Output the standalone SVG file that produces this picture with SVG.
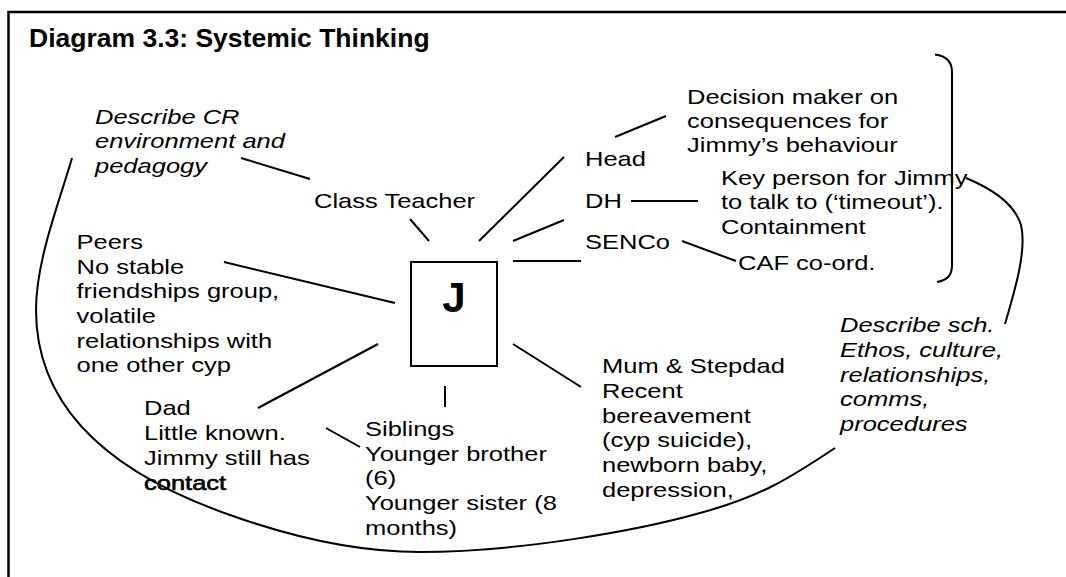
<svg xmlns="http://www.w3.org/2000/svg" width="1066" height="577" viewBox="0 0 1066 577">
  <style>
    .t { font-family: "Liberation Sans", Arial, sans-serif; font-size: 20.5px; fill: #000; }
    .it { font-style: italic; }
    .title { font-family: "Liberation Sans", Arial, sans-serif; font-size: 26.5px; font-weight: bold; fill: #000; }
    .ln { stroke: #000; stroke-width: 2; fill: none; stroke-linecap: butt; }
    .cv { stroke: #000; stroke-width: 2; fill: none; }
  </style>
  <rect width="1066" height="577" fill="#fff"/>

  <!-- frame: top and left edges only -->
  <path d="M8.5,577 V12 H1066" fill="none" stroke="#000" stroke-width="2.5"/>

  <text class="title" x="29" y="47">Diagram 3.3: Systemic Thinking</text>

  <!-- central child -->
  <g id="node-j">
    <rect x="411" y="262" width="86" height="104" fill="#fff" stroke="#000" stroke-width="2"/>
    <text x="454" y="312" text-anchor="middle" font-family="Liberation Sans, Arial, sans-serif" font-size="42" font-weight="bold">J</text>
  </g>

  <g id="node-cr">
    <text class="t it" transform="translate(95,124) scale(1.245,1)">
      <tspan x="0" y="0">Describe CR</tspan>
      <tspan x="0" y="24.5">environment and</tspan>
      <tspan x="0" y="49">pedagogy</tspan>
    </text>
  </g>

  <g id="node-teacher">
    <text class="t" transform="translate(314,208) scale(1.245,1)">Class Teacher</text>
  </g>

  <g id="node-peers">
    <text class="t" transform="translate(76.5,249) scale(1.245,1)">
      <tspan x="0" y="0">Peers</tspan>
      <tspan x="0" y="24.7">No stable</tspan>
      <tspan x="0" y="49.4">friendships group,</tspan>
      <tspan x="0" y="74.1">volatile</tspan>
      <tspan x="0" y="98.8">relationships with</tspan>
      <tspan x="0" y="123.5">one other cyp</tspan>
    </text>
  </g>

  <g id="node-dad">
    <text class="t" transform="translate(144,415) scale(1.245,1)">
      <tspan x="0" y="0">Dad</tspan>
      <tspan x="0" y="25">Little known.</tspan>
      <tspan x="0" y="50">Jimmy still has</tspan>
      <tspan x="0" y="75" stroke="#000" stroke-width="0.6">contact</tspan>
    </text>
  </g>

  <g id="node-siblings">
    <text class="t" transform="translate(365,436) scale(1.245,1)">
      <tspan x="0" y="0">Siblings</tspan>
      <tspan x="0" y="24.7">Younger brother</tspan>
      <tspan x="0" y="49.4">(6)</tspan>
      <tspan x="0" y="74.1">Younger sister (8</tspan>
      <tspan x="0" y="98.8">months)</tspan>
    </text>
  </g>

  <g id="node-mum">
    <text class="t" transform="translate(602,373) scale(1.245,1)">
      <tspan x="0" y="0">Mum &amp; Stepdad</tspan>
      <tspan x="0" y="24.8">Recent</tspan>
      <tspan x="0" y="49.6">bereavement</tspan>
      <tspan x="0" y="74.4">(cyp suicide),</tspan>
      <tspan x="0" y="99.2">newborn baby,</tspan>
      <tspan x="0" y="124">depression,</tspan>
    </text>
  </g>

  <g id="node-school">
    <text class="t it" transform="translate(840,332) scale(1.245,1)">
      <tspan x="0" y="0">Describe sch.</tspan>
      <tspan x="0" y="24.8">Ethos, culture,</tspan>
      <tspan x="0" y="49.6">relationships,</tspan>
      <tspan x="0" y="74.4">comms,</tspan>
      <tspan x="0" y="99.2">procedures</tspan>
    </text>
  </g>

  <g id="node-head">
    <text class="t" transform="translate(585,166) scale(1.245,1)">Head</text>
  </g>
  <g id="node-dh">
    <text class="t" transform="translate(585,208) scale(1.245,1)">DH</text>
  </g>
  <g id="node-senco">
    <text class="t" transform="translate(585,249) scale(1.245,1)">SENCo</text>
  </g>

  <g id="node-decision">
    <text class="t" transform="translate(687,104) scale(1.245,1)">
      <tspan x="0" y="0">Decision maker on</tspan>
      <tspan x="0" y="24">consequences for</tspan>
      <tspan x="0" y="48">Jimmy’s behaviour</tspan>
    </text>
  </g>

  <g id="node-keyperson">
    <text class="t" transform="translate(721,185) scale(1.245,1)">
      <tspan x="0" y="0">Key person for Jimmy</tspan>
      <tspan x="0" y="24.5">to talk to (‘timeout’).</tspan>
      <tspan x="0" y="49">Containment</tspan>
    </text>
  </g>

  <g id="node-caf">
    <text class="t" transform="translate(738,270) scale(1.245,1)">CAF co-ord.</text>
  </g>

  <g id="connectors">
    <line class="ln" x1="241" y1="158" x2="310" y2="179"/>
    <line class="ln" x1="410" y1="219" x2="429" y2="241"/>
    <line class="ln" x1="479" y1="241" x2="564" y2="157"/>
    <line class="ln" x1="615" y1="137" x2="666" y2="116"/>
    <line class="ln" x1="513" y1="241" x2="564" y2="220"/>
    <line class="ln" x1="631" y1="201" x2="666" y2="201"/>
    <line class="ln" x1="666" y1="201" x2="698" y2="201" stroke-width="2.6"/>
    <line class="ln" x1="513" y1="261" x2="581" y2="261"/>
    <line class="ln" x1="682" y1="241" x2="736" y2="261"/>
    <line class="ln" x1="224" y1="262" x2="395" y2="303"/>
    <line class="ln" x1="378" y1="344" x2="258" y2="408"/>
    <line class="ln" x1="445" y1="386" x2="445" y2="407"/>
    <line class="ln" x1="326" y1="428" x2="360" y2="447"/>
    <line class="ln" x1="513" y1="344" x2="581" y2="387"/>
    <!-- bracket grouping school staff -->
    <path class="cv" d="M935,54.5 C947,56 952,62 952,72 V265 C952,275 948,280 937,282"/>
    <!-- link from bracket to school description -->
    <path class="cv" d="M966,178 C995,190 1015,205 1021,225 C1027,250 1015,290 1005,324"/>
    <!-- enclosing curve of the child's wider system -->
    <path class="cv" d="M72,158 C60,200 36,260 36,310 C36,420 130,480 230,515 C300,540 360,552 420,552 C520,552 640,530 700,513 C760,497 790,478 835,448"/>
  </g>
</svg>
